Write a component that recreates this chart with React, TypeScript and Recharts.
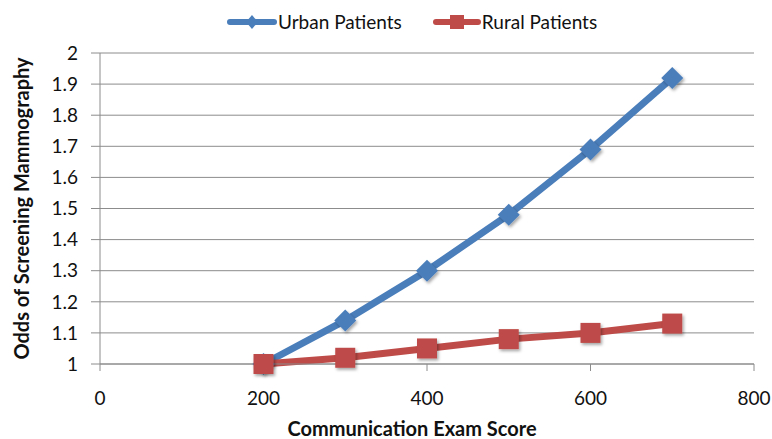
import React from "react";
import { LineChart, Line, XAxis, YAxis, CartesianGrid, Legend } from "recharts";

const scores = [200, 300, 400, 500, 600, 700];
const urbanOdds = [1.0, 1.14, 1.3, 1.48, 1.69, 1.92];
const ruralOdds = [1.0, 1.02, 1.05, 1.08, 1.1, 1.13];
const xTicks = [0, 200, 400, 600, 800];
const yTicks = [1, 1.1, 1.2, 1.3, 1.4, 1.5, 1.6, 1.7, 1.8, 1.9, 2];

const BLUE = "#4a7ebb";
const RED = "#be4b48";
const FONT = "Lato, 'Open Sans', sans-serif";

const data = scores.map((s, i) => ({ score: s, urban: urbanOdds[i], rural: ruralOdds[i] }));

const Diamond = (props: any) => {
  const { cx, cy } = props;
  const r = 11;
  return (
    <polygon
      key={`d-${cx}`}
      points={`${cx},${cy - r} ${cx + r},${cy} ${cx},${cy + r} ${cx - r},${cy}`}
      fill={BLUE}
      filter="url(#shadow)"
    />
  );
};

const Square = (props: any) => {
  const { cx, cy } = props;
  const r = 10;
  return (
    <rect
      key={`s-${cx}`}
      x={cx - r}
      y={cy - r}
      width={r * 2}
      height={r * 2}
      fill={RED}
      filter="url(#shadow)"
    />
  );
};

const LegendBox = () => (
  <div style={{ display: "flex", fontFamily: FONT, fontSize: 19, color: "#111", lineHeight: "24px", height: 24 }}>
    <div style={{ display: "flex", alignItems: "center", marginRight: 30 }}>
      <svg width={52} height={20}>
        <line x1={4} y1={10} x2={48} y2={10} stroke={BLUE} strokeWidth={6} strokeLinecap="round" />
        <polygon points="26,3 32,10 26,17 20,10" fill={BLUE} />
      </svg>
      <span>Urban Patients</span>
    </div>
    <div style={{ display: "flex", alignItems: "center" }}>
      <svg width={50} height={20}>
        <line x1={4} y1={10} x2={46} y2={10} stroke={RED} strokeWidth={6} strokeLinecap="round" />
        <rect x={18} y={3} width={14} height={14} fill={RED} />
      </svg>
      <span>Rural Patients</span>
    </div>
  </div>
);

export default function App() {
  return (
    <div style={{ position: "absolute", left: 0, top: 0, background: "#fff" }}>
      <LineChart width={772} height={439} data={data} margin={{ top: 29, right: 18, bottom: 0, left: 0 }}>
        <defs>
          <filter id="shadow" x="-50%" y="-50%" width="200%" height="200%">
            <feDropShadow dx={1.5} dy={2} stdDeviation={1.5} floodColor="#000" floodOpacity={0.35} />
          </filter>
        </defs>
        <CartesianGrid vertical={false} stroke="#8c8c8c" />
        <Legend
          verticalAlign="top"
          content={<LegendBox />}
          wrapperStyle={{ top: 10, left: 226, width: "auto" }}
        />
        <XAxis
          dataKey="score"
          type="number"
          domain={[0, 800]}
          ticks={xTicks}
          height={75}
          stroke="#8c8c8c"
          tickSize={7}
          tick={{ fill: "#111", fontSize: 19, fontFamily: FONT }}
          tickMargin={21}
          label={{
            value: "Communication Exam Score",
            position: "insideBottom",
            offset: 3,
            dx: -15,
            style: { fill: "#111", fontSize: 20, fontWeight: 700, fontFamily: FONT },
          }}
        />
        <YAxis
          type="number"
          domain={[1, 2]}
          ticks={yTicks}
          width={100}
          stroke="#8c8c8c"
          tickSize={9}
          tick={{ fill: "#111", fontSize: 19, fontFamily: FONT }}
          tickMargin={13}
          label={{
            value: "Odds of Screening Mammography",
            angle: -90,
            position: "insideLeft",
            offset: 22,
            style: { textAnchor: "middle", fill: "#111", fontSize: 20, fontWeight: 700, fontFamily: FONT },
          }}
        />
        <Line
          dataKey="urban"
          stroke={BLUE}
          strokeWidth={7}
          dot={<Diamond />}
          activeDot={false}
          isAnimationActive={false}
        />
        <Line
          dataKey="rural"
          stroke={RED}
          strokeWidth={7}
          dot={<Square />}
          activeDot={false}
          isAnimationActive={false}
        />
      </LineChart>
    </div>
  );
}
